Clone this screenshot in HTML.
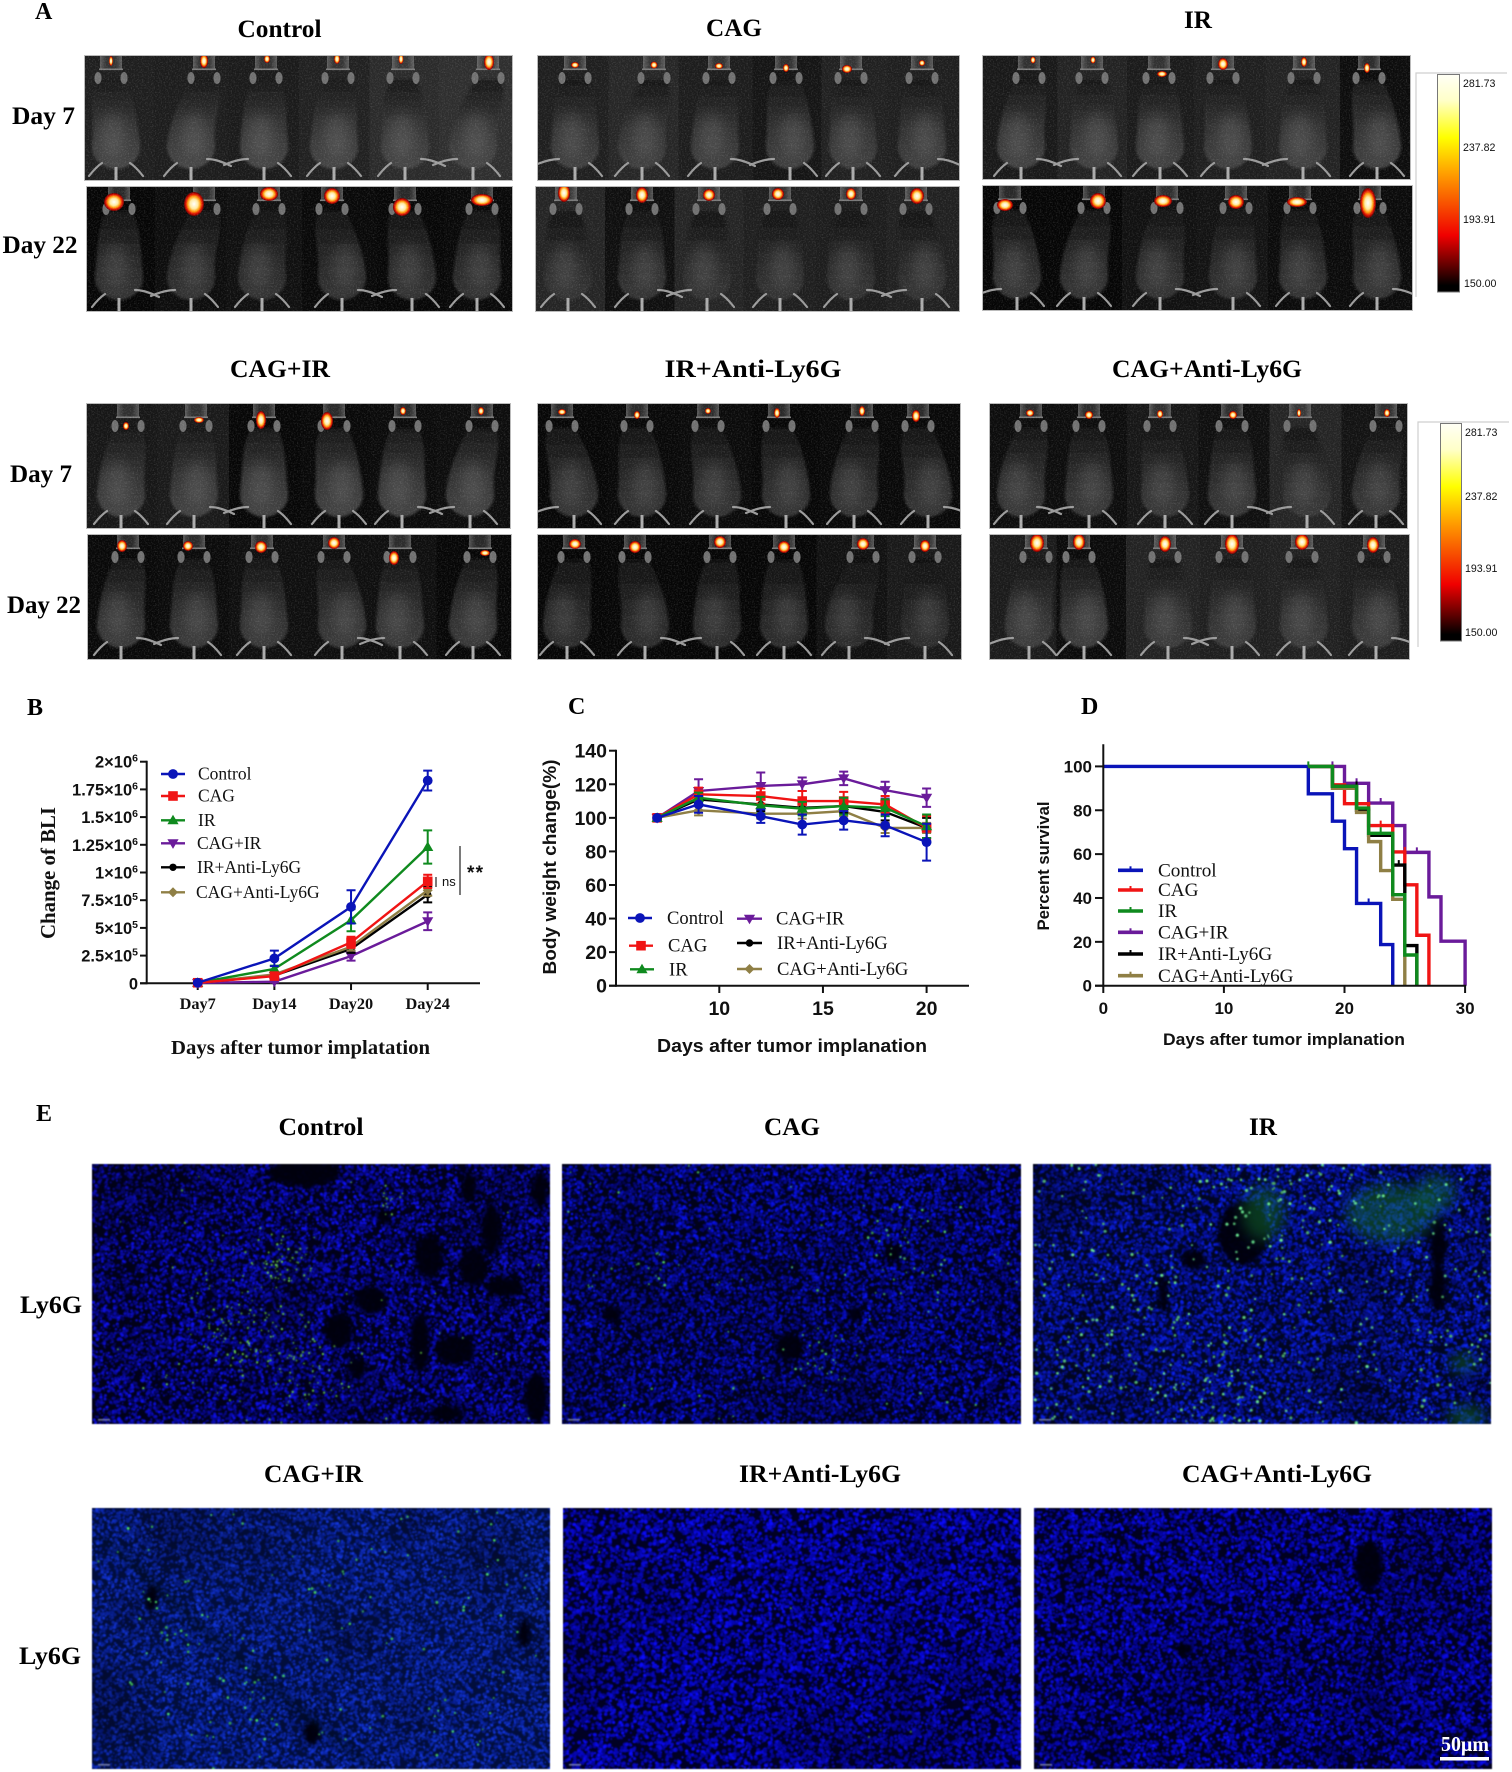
<!DOCTYPE html>
<html lang="en">
<head>
<meta charset="utf-8">
<title>Figure panels A-E</title>
<style>
html,body{margin:0;padding:0;background:#fff}
#stage{position:relative;width:1512px;height:1772px;background:#fff;overflow:hidden}
#stage canvas{position:absolute;display:block;filter:blur(.45px)}
#overlay{position:absolute;left:0;top:0}
#chartB,#chartC,#chartD{filter:blur(.35px)}
.title{font-family:"Liberation Serif",serif;font-weight:bold;font-size:25px;fill:#000;text-anchor:middle}
.letter{font-family:"Liberation Serif",serif;font-weight:bold;font-size:24px;fill:#000}
.serif{font-family:"Liberation Serif",serif;fill:#111}
.sans{font-family:"Liberation Sans",sans-serif;fill:#111}
.bold{font-weight:bold}
</style>
</head>
<body>
<div id="stage">
<canvas id="tissue0" width="458" height="260" style="left:92px;top:1164px"></canvas>
<canvas id="tissue1" width="459" height="260" style="left:562px;top:1164px"></canvas>
<canvas id="tissue2" width="458" height="260" style="left:1033px;top:1164px"></canvas>
<canvas id="tissue3" width="458" height="261" style="left:92px;top:1508px"></canvas>
<canvas id="tissue4" width="458" height="261" style="left:563px;top:1508px"></canvas>
<canvas id="tissue5" width="458" height="261" style="left:1034px;top:1508px"></canvas>

<svg id="overlay" xmlns="http://www.w3.org/2000/svg" width="1512" height="1772" viewBox="0 0 1512 1772">
<defs>
<linearGradient id="bodyShade" x1="0" y1="0" x2="0" y2="1">
<stop offset="0" stop-color="#000" stop-opacity=".66"/>
<stop offset=".5" stop-color="#000" stop-opacity=".3"/>
<stop offset="1" stop-color="#000" stop-opacity=".02"/>
</linearGradient>
<linearGradient id="tubeShade" x1="0" y1="0" x2="1" y2="0">
<stop offset="0" stop-color="#888" stop-opacity=".6"/>
<stop offset=".3" stop-color="#444" stop-opacity=".55"/>
<stop offset=".7" stop-color="#444" stop-opacity=".55"/>
<stop offset="1" stop-color="#888" stop-opacity=".6"/>
</linearGradient>
<radialGradient id="hotSpot">
<stop offset="0" stop-color="#fff"/>
<stop offset=".4" stop-color="#ffeaa0"/>
<stop offset=".62" stop-color="#ffa010"/>
<stop offset=".82" stop-color="#e01000"/>
<stop offset="1" stop-color="#600000"/>
</radialGradient>
<linearGradient id="heatScale" x1="0" y1="0" x2="0" y2="1">
<stop offset="0" stop-color="#fffff6"/>
<stop offset=".12" stop-color="#ffffc8"/>
<stop offset=".29" stop-color="#ffff00"/>
<stop offset=".46" stop-color="#ff9c00"/>
<stop offset=".74" stop-color="#f00000"/>
<stop offset=".88" stop-color="#600000"/>
<stop offset=".97" stop-color="#000"/>
<stop offset="1" stop-color="#000"/>
</linearGradient>
<filter id="soft" x="-20%" y="-20%" width="140%" height="140%"><feGaussianBlur stdDeviation="1.3"/></filter>
<filter id="softer" x="-50%" y="-50%" width="200%" height="200%"><feGaussianBlur stdDeviation="6"/></filter>
<filter id="grain" x="0" y="0" width="100%" height="100%">
<feTurbulence type="fractalNoise" baseFrequency=".7" numOctaves="2" seed="4"/>
<feColorMatrix values="0 0 0 0 1  0 0 0 0 1  0 0 0 0 1  1.8 0 0 0 -.82"/>
</filter>
</defs>

<g id="bliLayer"></g>

<g>
<text class="letter" x="35" y="19">A</text>
<text class="title" x="279.5" y="37" textLength="84" lengthAdjust="spacingAndGlyphs">Control</text>
<text class="title" x="734" y="36" textLength="56" lengthAdjust="spacingAndGlyphs">CAG</text>
<text class="title" x="1198" y="28" textLength="28" lengthAdjust="spacingAndGlyphs">IR</text>
<text class="title" x="43.5" y="124" textLength="63" lengthAdjust="spacingAndGlyphs">Day 7</text>
<text class="title" x="40" y="253" textLength="75" lengthAdjust="spacingAndGlyphs">Day 22</text>
<text class="title" x="280" y="377" textLength="100" lengthAdjust="spacingAndGlyphs">CAG+IR</text>
<text class="title" x="753" y="377" textLength="177" lengthAdjust="spacingAndGlyphs">IR+Anti-Ly6G</text>
<text class="title" x="1207" y="377" textLength="190" lengthAdjust="spacingAndGlyphs">CAG+Anti-Ly6G</text>
<text class="title" x="41" y="482" textLength="62" lengthAdjust="spacingAndGlyphs">Day 7</text>
<text class="title" x="44" y="613" textLength="74" lengthAdjust="spacingAndGlyphs">Day 22</text>
</g>

<g>
<path d="M1507 73H1416V297" fill="none" stroke="#cfcfcf" stroke-width="1.2"/>
<rect x="1437.5" y="74.5" width="22" height="217.5" fill="url(#heatScale)" stroke="#777"/>
<text class="sans" font-size="10.6" x="1463" y="87">281.73</text>
<text class="sans" font-size="10.6" x="1463" y="151">237.82</text>
<text class="sans" font-size="10.6" x="1463" y="223">193.91</text>
<text class="sans" font-size="10.6" x="1464" y="287">150.00</text>
</g>
<g>
<path d="M1509 422H1418V647" fill="none" stroke="#cfcfcf" stroke-width="1.2"/>
<rect x="1440.5" y="423.5" width="21" height="217.5" fill="url(#heatScale)" stroke="#777"/>
<text class="sans" font-size="10.6" x="1465" y="436">281.73</text>
<text class="sans" font-size="10.6" x="1465" y="500">237.82</text>
<text class="sans" font-size="10.6" x="1465" y="572">193.91</text>
<text class="sans" font-size="10.6" x="1465" y="636">150.00</text>
</g>

<g id="chartB">
<text class="letter" x="27" y="715">B</text>
<text class="serif bold" font-size="20.5" text-anchor="middle" x="300.5" y="1054" textLength="259" lengthAdjust="spacingAndGlyphs">Days after tumor implatation</text>
<text class="serif bold" font-size="21" text-anchor="middle" transform="translate(55 873) rotate(-90)" textLength="132" lengthAdjust="spacingAndGlyphs">Change of BLI</text>
<path d="M436 877V887" stroke="#222" stroke-width="1.2"/>
<text class="sans" font-size="13" x="442" y="886">ns</text>
<path d="M460 846V895" stroke="#222" stroke-width="1.2"/>
<text class="sans bold" font-size="19" x="467" y="879" textLength="16">**</text>
</g>
<g id="chartC">
<text class="letter" x="568" y="714">C</text>
<text class="sans bold" font-size="18.5" text-anchor="middle" x="792" y="1052" textLength="270" lengthAdjust="spacingAndGlyphs">Days after tumor implanation</text>
<text class="sans bold" font-size="18.5" text-anchor="middle" transform="translate(556 867) rotate(-90)" textLength="215" lengthAdjust="spacingAndGlyphs">Body weight change(%)</text>
</g>
<g id="chartD">
<text class="letter" x="1081" y="714">D</text>
<text class="sans bold" font-size="17" text-anchor="middle" x="1284" y="1045" textLength="242" lengthAdjust="spacingAndGlyphs">Days after tumor implanation</text>
<text class="sans" font-weight="bold" font-size="17" text-anchor="middle" transform="translate(1049 866) rotate(-90)" textLength="129" lengthAdjust="spacingAndGlyphs">Percent survival</text>
</g>

<g>
<text class="letter" x="36" y="1121">E</text>
<text class="title" x="321" y="1135" textLength="85" lengthAdjust="spacingAndGlyphs">Control</text>
<text class="title" x="792" y="1135" textLength="56" lengthAdjust="spacingAndGlyphs">CAG</text>
<text class="title" x="1263" y="1135" textLength="28" lengthAdjust="spacingAndGlyphs">IR</text>
<text class="title" x="51" y="1313" textLength="62" lengthAdjust="spacingAndGlyphs">Ly6G</text>
<text class="title" x="313.5" y="1482" textLength="99" lengthAdjust="spacingAndGlyphs">CAG+IR</text>
<text class="title" x="820" y="1482" textLength="162" lengthAdjust="spacingAndGlyphs">IR+Anti-Ly6G</text>
<text class="title" x="1277" y="1482" textLength="190" lengthAdjust="spacingAndGlyphs">CAG+Anti-Ly6G</text>
<text class="title" x="50" y="1664" textLength="62" lengthAdjust="spacingAndGlyphs">Ly6G</text>
<text x="1465" y="1751" text-anchor="middle" font-family="Liberation Serif, serif" font-weight="bold" font-size="21" fill="#fff" textLength="48" lengthAdjust="spacingAndGlyphs">50µm</text>
<rect x="1440" y="1757" width="49" height="3.5" fill="#fff"/>
</g>
</svg>
</div>

<script>
/* ---------- Chart B data ---------- */
const bliDays=['Day7','Day14','Day20','Day24'];
const bliTickValues=[0,250000,500000,750000,1000000,1250000,1500000,1750000,2000000];
const bliTickMant=['0','2.5','5','7.5','1','1.25','1.5','1.75','2'];
const bliTickExp=['','5','5','5','6','6','6','6','6'];
const bliControl=[5000,225000,690000,1830000];
const bliControlErr=[3000,70000,150000,90000];
const bliCag=[5000,65000,370000,920000];
const bliCagErr=[3000,15000,50000,60000];
const bliIr=[4000,130000,570000,1230000];
const bliIrErr=[3000,30000,100000,150000];
const bliCagIr=[3000,15000,245000,560000];
const bliCagIrErr=[2000,8000,40000,80000];
const bliIrAnti=[4000,70000,310000,800000];
const bliIrAntiErr=[2000,15000,35000,70000];
const bliCagAnti=[4000,80000,330000,840000];
const bliCagAntiErr=[2000,15000,35000,50000];

/* ---------- Chart C data ---------- */
const weightDays=[7,9,12,14,16,18,20];
const weightYTicks=[0,20,40,60,80,100,120,140];
const weightXTicks=[10,15,20];
const weightControl=[100,108,101,96,98.5,95.5,85.5];
const weightControlErr=[0,5,4,6,5.5,6.5,11];
const weightCag=[100,114,113,110,110,108,94];
const weightCagErr=[0,4,4.5,6,5.5,5,7];
const weightIr=[100,112,107.5,105.5,107,106,95];
const weightIrErr=[0,3,5,4,5,5,7];
const weightCagIr=[100,116,119,120,123.5,116.5,112];
const weightCagIrErr=[0,7,8,4,4,5,5.5];
const weightIrAnti=[100,111,108,106,107,103.5,94];
const weightIrAntiErr=[0,4,4,4,4,5,6];
const weightCagAnti=[100,104.5,102.5,102.5,104,94,94];
const weightCagAntiErr=[0,3,3,3,3,3,3];

/* ---------- Chart D data ---------- */
const survivalYTicks=[0,20,40,60,80,100];
const survivalXTicks=[0,10,20,30];
const survControlT=[0,17,19,20,21,23,24];
const survControlP=[100,87.5,75,62.5,37.5,18.75,0];
const survCagT=[17,19,20,22,24,25,26,27];
const survCagP=[100,91.6,83,73,61,46,23,0];
const survIrT=[17,19,21,22,24,25,26];
const survIrP=[100,90.9,81,69.5,41.5,14,0];
const survCagIrT=[17,20,22,24,25,27,28,30];
const survCagIrP=[100,92.3,83.3,73,60.8,40.5,20.3,0];
const survIrAntiT=[17,19,21,22,24,25,26];
const survIrAntiP=[100,90.9,80,68.6,55,18.3,0];
const survCagAntiT=[17,19,21,22,23,24,25];
const survCagAntiP=[100,90,79,65.7,52.5,39.4,0];
const censorControl=[[22,37.5]];
const censorCag=[[23,73],[25,61]];
const censorIr=[[17,100],[23,70]];
const censorCagIr=[[19,100],[21,92.3],[23,83.3],[26,60.8]];
const censorIrAnti=[[21,90.9],[24.5,55],[25,44]];
const censorCagAnti=[];

const groupNames=['Control','CAG','IR','CAG+IR','IR+Anti-Ly6G','CAG+Anti-Ly6G'];
const groupColors=['#0a14b8','#f01414','#0f8a1e','#6a1b9a','#000000','#8f7f45'];
const groupMarkers=['circle','square','up','down','dot','diamond'];

/* ---------- BLI image panels: [tube, body, bg, hotX, hotY, hotRx, hotRy] ---------- */
const bliPanels=[
 {n:'control-day7',x:84,y:55,w:429,h:126,fur:72,m:[[111,116,30,111,6,2,5],[204,191,28,204,6,4,7],[266,264,26,267,4,3,4],[338,334,32,337,4,3,5],[403,405,42,401,4,2.5,5],[488,473,46,489,7,5,8]]},
 {n:'control-day22',x:86,y:186,w:427,h:126,fur:52,m:[[119,119,5,114,16,10,9],[204,191,12,194,18,10,12],[269,262,15,269,8,9,7],[332,342,8,332,10,8,8],[405,412,6,402,21,9,9],[482,477,8,482,14,11,6]]},
 {n:'cag-day7',x:537,y:55,w:423,h:126,fur:66,m:[[575,575,30,575,10,4,3],[654,642,38,654,10,3.5,3.5],[719,715,28,719,11,4,3],[786,790,20,786,13,3,4],[851,853,32,847,14,5,4],[922,922,30,922,8,3,3]]},
 {n:'cag-day22',x:535,y:186,w:425,h:126,fur:54,m:[[566,568,36,564,7,6,9],[642,642,14,642,9,6,8],[709,707,36,709,9,6,6],[780,780,30,778,8,6,6],[851,851,28,851,8,5,6],[916,922,32,917,10,7,8]]},
 {n:'ir-day7',x:982,y:55,w:429,h:125,fur:68,m:[[1029,1021,24,1033,5,2.5,3.5],[1092,1094,34,1093,5,2.5,3.5],[1159,1160,26,1162,19,5,3],[1223,1228,30,1223,9,5,6],[1304,1303,34,1304,7,3,5],[1369,1377,12,1367,13,3,5]]},
 {n:'ir-day22',x:982,y:185,w:431,h:126,fur:54,m:[[1010,1017,5,1005,20,8,6],[1094,1084,5,1098,16,8,8],[1167,1160,16,1163,16,9,6],[1236,1233,18,1236,17,8,7],[1300,1303,10,1297,17,10,5],[1370,1377,10,1368,18,8,15]]},
 {n:'cag-ir-day7',x:86,y:403,w:425,h:126,fur:68,m:[[128,121,22,126,23,3,4],[196,194,25,199,17,5,3],[264,264,6,261,17,5,9],[334,339,8,327,18,6,9],[405,402,10,403,8,3,4],[482,470,12,481,8,3,4]]},
 {n:'cag-ir-day22',x:87,y:534,w:425,h:126,fur:60,m:[[128,121,8,122,12,5,6],[194,194,10,188,12,5,5],[262,264,14,261,13,6,6],[334,342,14,334,9,6,6],[400,400,14,394,24,5,7],[480,473,6,485,19,5,3]]},
 {n:'ir-anti-day7',x:537,y:403,w:424,h:126,fur:54,m:[[562,574,6,562,9,4,3],[637,642,8,637,12,3,4],[708,717,10,708,8,3,3],[779,786,6,777,10,3,5],[862,854,8,862,8,3,5],[918,928,8,916,13,4,6]]},
 {n:'ir-anti-day22',x:537,y:534,w:425,h:126,fur:47,m:[[574,567,5,575,10,6,5],[635,645,6,635,13,6,6],[720,717,5,720,8,6,6],[784,784,5,784,13,6,6],[863,849,16,863,10,6,6],[925,925,24,925,12,5,6]]},
 {n:'cag-anti-day7',x:989,y:403,w:419,h:126,fur:58,m:[[1031,1021,12,1030,10,4,3.5],[1089,1089,12,1089,12,4,4],[1160,1165,22,1160,11,3,4],[1232,1232,14,1233,12,4,4],[1300,1307,36,1299,10,2,4],[1386,1376,18,1387,10,3,4]]},
 {n:'cag-anti-day22',x:989,y:534,w:421,h:126,fur:62,m:[[1036,1029,26,1037,9,7,9],[1079,1084,10,1079,8,6,8],[1165,1168,34,1165,10,6,8],[1232,1232,30,1232,10,7,10],[1302,1304,32,1302,8,7,8],[1374,1376,28,1373,11,6,8]]}
];

/* ---------- Histology panels (texture configuration) ---------- */
const tissuePanels=[
 {seed:11,bg:[1,1,26],lo:[4,4,95],hi:[16,18,250],cells:14000,size:1.35,
  holes:[[212,9,36,14],[337,93,14,22],[381,103,14,20],[279,136,16,14],[412,123,20,10],[399,66,10,25],[377,23,8,15],[448,26,8,18],[247,166,14,18],[328,179,10,30],[363,186,20,15],[444,233,12,25],[354,249,18,8],[265,203,10,10],[292,53,8,8]],
  haze:[],clusters:[[189,96,25,55],[154,166,55,120],[296,36,14,15],[220,209,40,45],[229,130,230,40]],dot:[120,240,80],dotR:.9},
 {seed:23,bg:[1,2,26],lo:[4,4,100],hi:[10,20,250],cells:14500,size:1.35,
  holes:[[227,183,14,14],[331,89,10,8],[293,150,8,8],[50,150,10,8]],
  haze:[],clusters:[[92,96,18,12],[28,122,6,3],[331,63,35,20],[350,106,30,16],[264,199,25,24],[229,130,230,50]],dot:[90,230,110],dotR:1.05},
 {seed:37,bg:[1,6,34],lo:[4,10,115],hi:[12,36,250],cells:15000,size:1.35,
  holes:[[210,69,25,32],[161,96,12,10],[405,123,8,25],[405,79,8,25],[130,130,5,20]],
  haze:[[231,49,22,28],[357,49,45,30],[403,29,20,20],[430,199,14,10],[434,253,20,12]],
  clusters:[[229,130,230,320],[179,229,50,60],[222,19,30,25],[300,30,60,25]],dot:[110,240,150],dotR:1.35},
 {seed:41,bg:[2,14,60],lo:[6,26,125],hi:[20,56,225],cells:16000,size:1.25,
  holes:[[60,90,6,14],[220,225,8,12],[432,125,6,14]],
  haze:[],clusters:[[229,130,230,110],[70,120,40,12],[160,190,40,12]],dot:[80,235,110],dotR:1.15},
 {seed:53,bg:[1,1,36],lo:[3,3,135],hi:[12,12,255],cells:11500,size:1.6,
  holes:[],haze:[],clusters:[[229,130,230,6]],dot:[110,200,70],dotR:.8},
 {seed:67,bg:[1,1,32],lo:[3,3,125],hi:[12,12,250],cells:12000,size:1.5,
  holes:[[335,58,14,24],[150,141,9,6]],haze:[],clusters:[[270,175,25,3]],dot:[120,200,90],dotR:.8}
];

const NS='http://www.w3.org/2000/svg';
function mk(tag,attrs,parent){
  const e=document.createElementNS(NS,tag);
  for(const k in attrs){e.setAttribute(k,attrs[k]);}
  parent.appendChild(e);
  return e;
}

/* ---------- Mice ---------- */
function drawBliPanels(){
  const layer=document.getElementById('bliLayer');
  bliPanels.forEach(function(p,pi){
    const svg=mk('svg',{x:p.x,y:p.y,width:p.w,height:p.h,viewBox:'0 0 '+p.w+' '+p.h},layer);
    
    
    p.m.forEach(function(r,i){
      const prev=i===0?p.x:(p.m[i-1][1]+r[1])/2;
      const next=i===p.m.length-1?p.x+p.w:(r[1]+p.m[i+1][1])/2;
      const bg=mk('rect',{x:prev-p.x,y:0,width:next-prev+.5,height:p.h,fill:'rgb('+r[2]+','+r[2]+','+r[2]+')'},svg);
      
      
    });
    p.m.forEach(function(r,i){
      const t=r[0]-p.x,b=r[1]-p.x;
      const g=mk('g',{},svg);
      
      
      mk('rect',{x:t-11,y:0,width:22,height:14,fill:'url(#tubeShade)'},g);
      mk('rect',{x:t-12,y:13.5,width:24,height:1.6,fill:'#7a7a7a'},g);
      const side=i%2?1:-1;
      const body=mk('g',{filter:'url(#soft)'},g);
      const d='M'+(t-13)+' 25C'+(t-22)+' 42 '+(b-21)+' 62 '+(b-24)+' 90C'+(b-25)+' 106 '+(b-10)+' 114 '+b+' 114C'+(b+10)+' 114 '+(b+25)+' 106 '+(b+24)+' 90C'+(b+21)+' 62 '+(t+22)+' 42 '+(t+13)+' 25Z';
      const f=p.fur;
      mk('path',{d:d,fill:'rgb('+f+','+f+','+f+')'},body);
      mk('path',{d:d,fill:'url(#bodyShade)'},body);
      mk('ellipse',{cx:t-13,cy:23,rx:3.6,ry:6,fill:'#707070'},g);
      mk('ellipse',{cx:t+13,cy:23,rx:3.6,ry:6,fill:'#707070'},g);
      mk('ellipse',{cx:b+side*3,cy:80,rx:13,ry:22,fill:'#fff',opacity:.1,filter:'url(#softer)'},g);
      const v=(i+pi)%3;
      const lLeg=v===2?'M'+(b-16)+' 104Q'+(b-26)+' 104 '+(b-40)+' 110':'M'+(b-14)+' 108Q'+(b-20)+' 112 '+(b-27)+' 121';
      const rLeg=v===1?'M'+(b+16)+' 104Q'+(b+26)+' 104 '+(b+40)+' 111':'M'+(b+14)+' 108Q'+(b+20)+' 112 '+(b+27)+' 121';
      mk('path',{d:lLeg+rLeg,fill:'none',stroke:'#9a9a9a','stroke-width':2.2,'stroke-linecap':'round'},g);
      mk('path',{d:'M'+b+' 112V126',stroke:'#aaaaaa','stroke-width':3},g);
      const hot=mk('ellipse',{cx:r[3]-p.x,cy:r[4],rx:r[5],ry:r[6],fill:'url(#hotSpot)'},g);
      
      
    });
    const noise=mk('rect',{x:0,y:0,width:p.w,height:p.h,filter:'url(#grain)',opacity:.2},svg);
    
    
    const frame=mk('rect',{x:.5,y:.5,width:p.w-1,height:p.h-1,fill:'none',stroke:'#bbb'},svg);
    
    
  });
}

/* ---------- Shared chart parts ---------- */
function marker(parent,type,x,y,color){
  if(type==='circle'){return mk('circle',{cx:x,cy:y,r:4.9,fill:color},parent);}
  if(type==='dot'){return mk('circle',{cx:x,cy:y,r:3.7,fill:color},parent);}
  if(type==='square'){return mk('rect',{x:x-4.8,y:y-4.8,width:9.6,height:9.6,fill:color},parent);}
  let pts;
  if(type==='up'){pts=[[x,y-5.6],[x+5.6,y+4],[x-5.6,y+4]];}
  else if(type==='down'){pts=[[x,y+5.6],[x+5.6,y-4],[x-5.6,y-4]];}
  else{pts=[[x,y-5],[x+5,y],[x,y+5],[x-5,y]];}
  return mk('polygon',{points:pts.map(function(q){return q.join(',');}).join(' '),fill:color},parent);
}
function axisLine(parent,x1,y1,x2,y2,w){
  return mk('line',{x1:x1,y1:y1,x2:x2,y2:y2,stroke:'#111','stroke-width':w||2},parent);
}
function label(parent,txt,x,y,size,cls,anchor){
  const t=mk('text',{x:x,y:y,'font-size':size,class:cls,'text-anchor':anchor||'start'},parent);
  t.textContent=txt;
  return t;
}
function errorSeries(parent,xs,vals,errs,xf,yf,color,type,name,capHalf){
  const g=mk('g',{},parent);
  
  
  const path=vals.map(function(v,i){return (i?'L':'M')+xf(xs[i])+' '+yf(v);}).join('');
  const ln=mk('path',{d:path,fill:'none',stroke:color,'stroke-width':2.4},g);
  
  
  vals.forEach(function(v,i){
    const x=xf(xs[i]),hi=yf(v+errs[i]),lo=yf(v-errs[i]);
    const eb=mk('path',{d:'M'+x+' '+hi+'V'+lo+'M'+(x-capHalf)+' '+hi+'H'+(x+capHalf)+'M'+(x-capHalf)+' '+lo+'H'+(x+capHalf),fill:'none',stroke:color,'stroke-width':2},g);
    
    
    const mkr=marker(g,type,x,yf(v),color);
    
    
  });
}
function legendEntry(parent,x1,x2,y,textX,size,idx,style){
  const g=mk('g',{},parent);
  
  
  mk('line',{x1:x1,y1:y,x2:x2,y2:y,stroke:groupColors[idx],'stroke-width':style==='km'?3.6:2.4},g);
  if(style==='km'){mk('line',{x1:(x1+x2)/2,y1:y-4,x2:(x1+x2)/2,y2:y,stroke:groupColors[idx],'stroke-width':2},g);}
  else{marker(g,groupMarkers[idx],(x1+x2)/2,y,groupColors[idx]);}
  label(g,groupNames[idx],textX,y+size*.32,size,'serif');
}

/* ---------- Chart B ---------- */
const xB=function(i){return 197.7+i*76.67;};
const yB=function(v){return 983.3-v*221.6/2000000;};
function drawChartB(){
  const root=document.getElementById('chartB');
  const axes=mk('g',{},root);
  
  
  axisLine(axes,146.7,yB(2000000)-1,146.7,984.3);
  axisLine(axes,140,983.3,480,983.3);
  bliTickValues.forEach(function(v,i){
    axisLine(axes,140,yB(v),146.7,yB(v));
    const t=mk('text',{x:138,y:yB(v)+6,'font-size':16.5,class:'sans bold','text-anchor':'end'},axes);
    
    
    if(bliTickExp[i]){
      t.appendChild(document.createTextNode(bliTickMant[i]+'×10'));
      const s=mk('tspan',{dy:-6,'font-size':10.5},t);
      s.textContent=bliTickExp[i];
    }else{t.textContent=bliTickMant[i];}
  });
  bliDays.forEach(function(d,i){
    axisLine(axes,xB(i),983.3,xB(i),990);
    const t=label(axes,d,xB(i),1009,16.3,'serif bold','middle');
    
    
  });
  const order=[3,4,5,2,1,0];
  const vals=[bliControl,bliCag,bliIr,bliCagIr,bliIrAnti,bliCagAnti];
  const errs=[bliControlErr,bliCagErr,bliIrErr,bliCagIrErr,bliIrAntiErr,bliCagAntiErr];
  const idx=bliDays.map(function(_,i){return i;});
  order.forEach(function(k){
    errorSeries(root,idx,vals[k],errs[k],xB,yB,groupColors[k],groupMarkers[k],'bli-'+groupNames[k].toLowerCase().replace(/\+/g,'-'),4.5);
  });
  const ly=[774,796,820.3,843.3,867.3,892.3];
  const lt=[198,198,198,197,197,196];
  ly.forEach(function(y,i){legendEntry(root,161,185,y,lt[i],17.5,i,'line');});
}

/* ---------- Chart C ---------- */
const xC=function(d){return 719.3+(d-10)*20.73;};
const yC=function(v){return 985.7-v*235/140;};
function drawChartC(){
  const root=document.getElementById('chartC');
  const axes=mk('g',{},root);
  
  
  axisLine(axes,616,yC(140)-1,616,986.7);
  axisLine(axes,609,985.7,969,985.7);
  weightYTicks.forEach(function(v){
    axisLine(axes,609,yC(v),616,yC(v));
    const t=label(axes,String(v),607,yC(v)+7,19.5,'sans bold','end');
    
    
  });
  weightXTicks.forEach(function(d){
    axisLine(axes,xC(d),985.7,xC(d),993);
    const t=label(axes,String(d),xC(d),1015,19.5,'sans bold','middle');
    
    
  });
  const order=[5,4,3,1,2,0];
  const vals=[weightControl,weightCag,weightIr,weightCagIr,weightIrAnti,weightCagAnti];
  const errs=[weightControlErr,weightCagErr,weightIrErr,weightCagIrErr,weightIrAntiErr,weightCagAntiErr];
  order.forEach(function(k){
    errorSeries(root,weightDays,vals[k],errs[k],xC,yC,groupColors[k],groupMarkers[k],'weight-'+groupNames[k].toLowerCase().replace(/\+/g,'-'),4.5);
  });
  const pos=[[628,652,918,667],[629,653,945.7,668],[630,654,969.3,669],[737,762,918.7,776],[737,762,943,777],[737,762,969,777]];
  pos.forEach(function(q,i){legendEntry(root,q[0],q[1],q[2],q[3],18.6,i,'line');});
}

/* ---------- Chart D ---------- */
const xD=function(t){return 1103.3+t*12.06;};
const yD=function(p){return 985.7-p*2.193;};
function drawChartD(){
  const root=document.getElementById('chartD');
  const times=[survControlT,survCagT,survIrT,survCagIrT,survIrAntiT,survCagAntiT];
  const pcts=[survControlP,survCagP,survIrP,survCagIrP,survIrAntiP,survCagAntiP];
  const cens=[censorControl,censorCag,censorIr,censorCagIr,censorIrAnti,censorCagAnti];
  const order=[0,3,1,4,5,2];
  order.forEach(function(k){
    const g=mk('g',{},root);
    
    
    let d='M'+xD(times[k][0])+' '+yD(pcts[k][0]);
    for(let i=1;i<times[k].length;i++){
      d+='H'+xD(times[k][i])+'V'+yD(pcts[k][i]);
    }
    mk('path',{d:d,fill:'none',stroke:groupColors[k],'stroke-width':3.4,'stroke-linejoin':'miter'},g);
    cens[k].forEach(function(c){
      const m=mk('line',{x1:xD(c[0]),y1:yD(c[1])-5,x2:xD(c[0]),y2:yD(c[1]),stroke:groupColors[k],'stroke-width':2},g);
      
      
    });
  });
  const axes=mk('g',{},root);
  
  
  axisLine(axes,1103.3,744.3,1103.3,986.7);
  axisLine(axes,1095,985.7,xD(30)+1,985.7);
  survivalYTicks.forEach(function(v){
    axisLine(axes,1095,yD(v),1103.3,yD(v));
    const t=label(axes,String(v),1092,yD(v)+6,17,'sans bold','end');
    
    
  });
  survivalXTicks.forEach(function(d){
    axisLine(axes,xD(d),985.7,xD(d),993);
    const t=label(axes,String(d),xD(d),1014,17,'sans bold','middle');
    
    
  });
  const ly=[870.3,890,911,932.3,954,975.7];
  ly.forEach(function(y,i){legendEntry(root,1118,1143,y,1158,19.2,i,'km');});
}

/* ---------- Histology texture ---------- */
function prng(seed){
  let a=seed*2654435761>>>0;
  return function(){
    a=(a+0x6D2B79F5)>>>0;
    let t=a;
    t=Math.imul(t^(t>>>15),t|1);
    t^=t+Math.imul(t^(t>>>7),t|61);
    return ((t^(t>>>14))>>>0)/4294967296;
  };
}
function drawTissue(cfg,idx){
  const c=document.getElementById('tissue'+idx);
  const ctx=c.getContext('2d');
  const W=c.width,H=c.height,R=prng(cfg.seed);
  ctx.fillStyle='rgb('+cfg.bg.join(',')+')';
  ctx.fillRect(0,0,W,H);
  for(let i=0;i<cfg.cells;i++){
    const s=R(),b=Math.pow(s,1.4);
    const col=[0,1,2].map(function(j){return Math.round(cfg.lo[j]+(cfg.hi[j]-cfg.lo[j])*b);});
    ctx.fillStyle='rgb('+col.join(',')+')';
    ctx.beginPath();
    ctx.arc(R()*W,R()*H,cfg.size*(.6+R()*.8),0,6.3);
    ctx.fill();
  }
  for(let i=0;i<16;i++){
    const x=R()*W,y=R()*H,r=25+R()*45;
    const g=ctx.createRadialGradient(x,y,0,x,y,r);
    g.addColorStop(0,'rgba(0,0,20,.2)');
    g.addColorStop(1,'rgba(0,0,20,0)');
    ctx.fillStyle=g;
    ctx.fillRect(x-r,y-r,2*r,2*r);
  }
  ctx.filter='blur(2px)';
  cfg.holes.forEach(function(h){
    ctx.fillStyle='rgba(0,0,12,.96)';
    ctx.beginPath();
    ctx.ellipse(h[0],h[1],h[2],h[3],0,0,6.3);
    ctx.fill();
  });
  ctx.filter='blur(7px)';
  cfg.haze.forEach(function(h){
    ctx.fillStyle='rgba(20,120,50,.46)';
    ctx.beginPath();
    ctx.ellipse(h[0],h[1],h[2],h[3],0,0,6.3);
    ctx.fill();
  });
  ctx.filter='none';
  if(idx===3){
    ctx.strokeStyle='rgba(0,12,25,.42)';
    ctx.lineWidth=8;
    ctx.filter='blur(3px)';
    ctx.beginPath();ctx.moveTo(10,28);ctx.lineTo(120,130);ctx.lineTo(276,258);ctx.stroke();
    ctx.filter='none';
  }
  const gauss=function(){return (R()+R()+R()+R()-2)*1.0;};
  cfg.clusters.forEach(function(cl){
    const uniform=cl[2]>100;
    for(let i=0;i<cl[3];i++){
      const x=uniform?R()*W:cl[0]+gauss()*cl[2];
      const y=uniform?R()*H:cl[1]+gauss()*cl[2];
      const k=.65+R()*.35;
      ctx.fillStyle='rgb('+Math.round(cfg.dot[0]*k)+','+Math.round(cfg.dot[1]*k)+','+Math.round(cfg.dot[2]*k)+')';
      ctx.beginPath();
      ctx.arc(x,y,cfg.dotR*(.7+R()*.6),0,6.3);
      ctx.fill();
    }
  });
  ctx.fillStyle='#7f86a8';
  ctx.fillRect(6,H-5,12,1.5);
}

drawBliPanels();
drawChartB();
drawChartC();
drawChartD();
tissuePanels.forEach(drawTissue);
</script>
</body>
</html>
